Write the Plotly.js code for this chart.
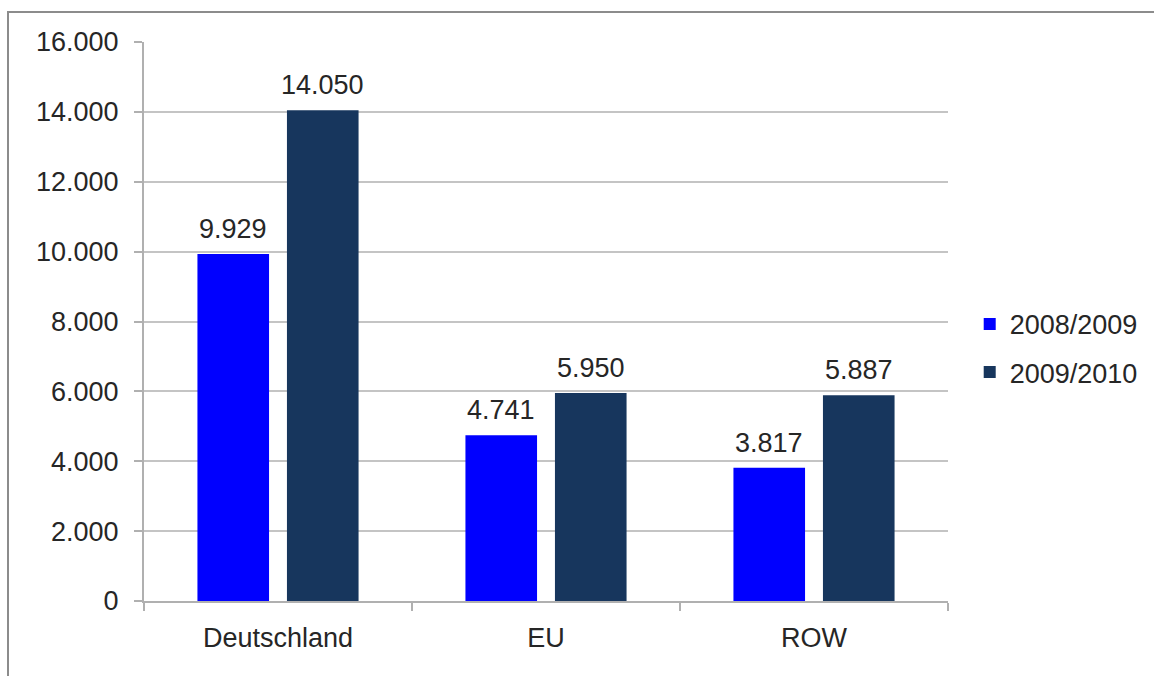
<!DOCTYPE html>
<html>
<head>
<meta charset="utf-8">
<script src="https://cdn.plot.ly/plotly-3.0.1.min.js"></script>
<style>
  html, body { margin: 0; padding: 0; background: #ffffff; }
  #frame {
    position: absolute; left: 7px; top: 11px;
    width: 1147px; height: 665px;
    border-top: 2px solid #8c8c8c; border-left: 2px solid #8c8c8c;
  }
  #chart { width: 1147px; height: 665px; }
</style>
</head>
<body>
<div id="frame"><div id="chart"></div></div>
<script>
const categories = ["Deutschland", "EU", "ROW"];
const seriesNames = ["2008/2009", "2009/2010"];
const values2008 = [9929, 4741, 3817];
const values2009 = [14050, 5950, 5887];
const yTickValues = [0, 2000, 4000, 6000, 8000, 10000, 12000, 14000, 16000];

const font = "Liberation Sans, Arial, sans-serif";
const textColor = "#262626";
const fontSize = 27;

const bargap = 0.332;
const bargroupgap = 0.2;
const plotWidth = 804;

const traces = [
  {
    type: "bar", name: seriesNames[0], x: categories, y: values2008,
    marker: { color: "#0000ff" },
    legendgroup: "a", hoverinfo: "skip"
  },
  {
    type: "bar", name: seriesNames[1], x: categories, y: values2009,
    marker: { color: "#17365d" },
    legendgroup: "b", hoverinfo: "skip"
  }
];

// value labels above bars, placed on the data coordinates of each bar
const slotPx = plotWidth / categories.length * (1 - bargap) / 2;
const annotations = [];
[values2008, values2009].forEach((vals, si) => {
  const shift = (si === 0 ? -0.5 : 0.5) * slotPx;
  vals.forEach((v, i) => {
    annotations.push({
      x: categories[i], y: v, xref: "x", yref: "y",
      text: v.toLocaleString("de-DE"),
      showarrow: false, xanchor: "center", yanchor: "bottom",
      xshift: shift, yshift: 8,
      font: { family: font, size: fontSize, color: textColor }
    });
  });
});

const layout = {
  width: 1147, height: 665,
  margin: { l: 135, r: 208, t: 29, b: 77 },
  paper_bgcolor: "#ffffff", plot_bgcolor: "#ffffff",
  separators: ",.",
  font: { family: font, size: fontSize, color: textColor },
  barmode: "group", bargap: bargap, bargroupgap: bargroupgap,
  xaxis: {
    type: "category",
    showline: true, linecolor: "#b0b0b0", linewidth: 2,
    ticks: "outside", tickson: "boundaries", ticklen: 8, tickcolor: "#b0b0b0", tickwidth: 2,
    ticklabelstandoff: 12,
    tickfont: { family: font, size: fontSize, color: textColor },
    showgrid: false
  },
  yaxis: {
    range: [0, 16000], tickvals: yTickValues, tickformat: ",.0f",
    showline: true, linecolor: "#b0b0b0", linewidth: 2,
    ticks: "outside", ticklen: 8, tickcolor: "#b0b0b0", tickwidth: 2,
    ticklabelstandoff: 10,
    gridcolor: "#c4c4c4", gridwidth: 2,
    zeroline: false,
    tickfont: { family: font, size: fontSize, color: textColor }
  },
  annotations: annotations,
  showlegend: true,
  legend: {
    x: 1.027, xanchor: "left", y: 0.452, yanchor: "middle",
    font: { family: font, size: fontSize, color: textColor },
    tracegrouporder: "normal", tracegroupgap: 10,
    itemwidth: 30, bgcolor: "rgba(0,0,0,0)"
  }
};

Plotly.newPlot("chart", traces, layout, { displayModeBar: false, staticPlot: true });
</script>
</body>
</html>
